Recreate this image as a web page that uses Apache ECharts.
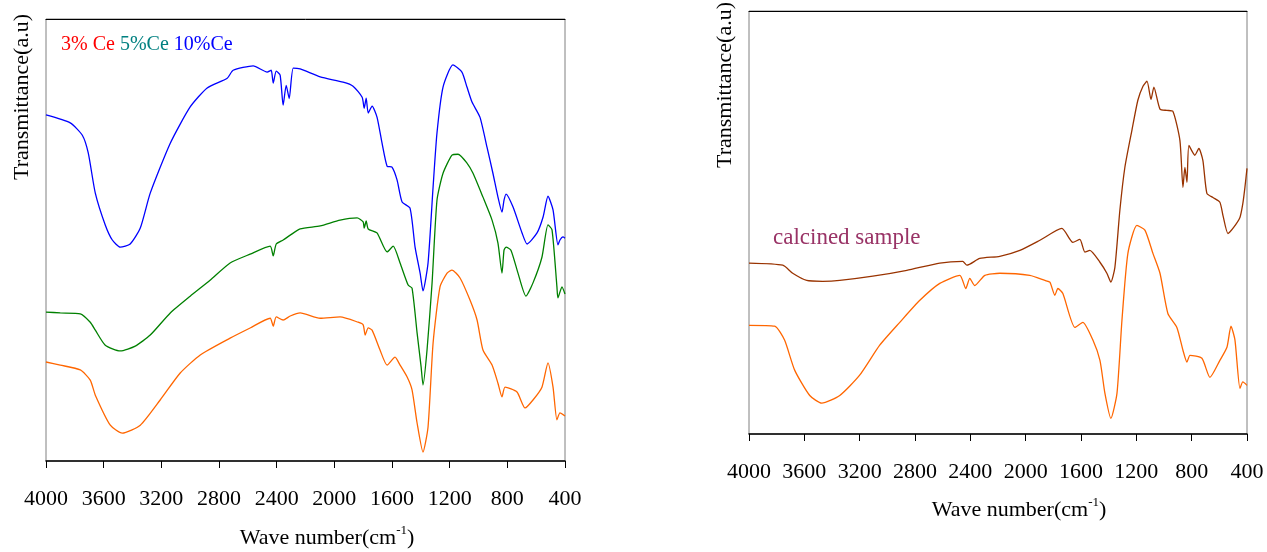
<!DOCTYPE html>
<html>
<head>
<meta charset="utf-8">
<script src="https://cdn.jsdelivr.net/npm/echarts@6/dist/echarts.min.js"></script>
<style>
  html, body { margin: 0; padding: 0; background: #fff; }
  #chart { width: 1267px; height: 552px; }
</style>
</head>
<body>
<div id="chart"></div>
<script>
// x ticks (wave number, cm-1)
var xTicks = [4000, 3600, 3200, 2800, 2400, 2000, 1600, 1200, 800, 400]

// left panel: 10% Ce (blue)
var wn10 = [4000, 3832, 3748, 3707, 3658, 3589, 3540, 3485, 3416, 3346, 3277, 3138, 3000, 2882, 2743, 2702, 2563, 2466, 2438, 2424, 2403, 2376, 2355, 2334, 2313, 2285, 2237, 2098, 1939, 1870, 1807, 1793, 1779, 1765, 1738, 1704, 1669, 1634, 1600, 1565, 1530, 1475, 1440, 1405, 1385, 1350, 1315, 1288, 1246, 1177, 1115, 1080, 1045, 990, 941, 900, 865, 837, 823, 809, 761, 698, 663, 594, 552, 518, 483, 449, 435, 414, 400]
var t10 = [78.3, 76.5, 73.7, 69.7, 60.6, 53.4, 50.0, 48.4, 49.1, 52.7, 60.6, 71.9, 80.1, 84.4, 86.6, 88.4, 89.4, 88.0, 88.4, 85.5, 88.2, 87.3, 80.5, 85.0, 82.0, 88.9, 88.7, 86.9, 85.7, 84.8, 82.3, 79.8, 82.1, 78.7, 80.3, 77.8, 71.9, 66.7, 66.5, 63.6, 58.6, 57.2, 48.4, 42.5, 38.5, 44.8, 62.0, 74.2, 84.6, 89.6, 88.0, 84.6, 81.2, 77.8, 71.0, 65.1, 59.7, 56.3, 59.0, 60.4, 57.5, 51.6, 49.1, 51.6, 55.2, 59.9, 56.8, 48.9, 50.0, 50.7, 50.4]

// left panel: 5% Ce (green)
var wn5 = [4000, 3901, 3762, 3693, 3658, 3589, 3485, 3381, 3277, 3138, 3000, 2862, 2723, 2584, 2445, 2424, 2403, 2355, 2306, 2237, 2098, 1960, 1842, 1800, 1793, 1779, 1765, 1704, 1634, 1592, 1544, 1488, 1461, 1426, 1398, 1385, 1357, 1322, 1288, 1246, 1184, 1142, 1080, 1038, 969, 906, 865, 837, 823, 809, 775, 726, 671, 622, 560, 518, 490, 456, 449, 421, 400]
var t5 = [33.7, 33.5, 33.3, 31.4, 29.6, 26.2, 24.9, 26.0, 28.5, 33.5, 37.3, 40.9, 44.8, 46.8, 48.6, 46.4, 49.1, 50.0, 51.1, 52.5, 53.2, 54.5, 55.0, 54.1, 52.7, 54.3, 52.5, 51.6, 47.3, 48.6, 44.8, 39.8, 39.1, 29.0, 21.3, 17.2, 25.1, 40.3, 59.0, 65.1, 69.2, 69.4, 67.4, 65.1, 59.7, 54.5, 49.3, 42.5, 47.7, 48.4, 47.7, 42.5, 37.3, 40.3, 46.1, 53.4, 52.3, 39.4, 36.9, 39.4, 37.8]

// left panel: 3% Ce (orange)
var wn3 = [4000, 3901, 3762, 3693, 3658, 3554, 3471, 3346, 3208, 3069, 2930, 2723, 2584, 2445, 2424, 2403, 2355, 2306, 2237, 2098, 1960, 1835, 1800, 1786, 1765, 1738, 1683, 1634, 1579, 1544, 1495, 1461, 1426, 1385, 1350, 1315, 1267, 1218, 1184, 1128, 1059, 1010, 969, 906, 865, 837, 816, 733, 677, 622, 560, 518, 483, 456, 435, 400]
var t3 = [22.4, 21.7, 20.6, 18.3, 14.9, 8.1, 6.3, 8.1, 13.8, 19.9, 24.0, 27.8, 30.1, 32.3, 30.5, 32.6, 31.9, 32.8, 33.5, 32.3, 32.6, 31.4, 30.8, 28.5, 30.1, 29.6, 25.1, 21.7, 23.5, 21.7, 19.0, 16.1, 8.6, 2.0, 7.7, 26.7, 39.4, 42.5, 43.2, 41.4, 36.4, 31.9, 25.1, 21.7, 17.6, 14.5, 16.7, 15.6, 12.0, 13.8, 16.7, 22.2, 16.7, 9.3, 10.9, 10.2]

// right panel: calcined sample (brown)
var wnCal = [4000, 3756, 3684, 3583, 3467, 3344, 3105, 2859, 2621, 2455, 2425, 2332, 2187, 2042, 1897, 1738, 1659, 1608, 1572, 1536, 1463, 1413, 1384, 1355, 1319, 1283, 1232, 1189, 1152, 1123, 1094, 1073, 1029, 979, 936, 885, 863, 849, 834, 820, 777, 748, 719, 690, 646, 596, 574, 538, 502, 451, 430, 415, 400]
var tCal = [40.4, 39.9, 38.0, 36.3, 36.1, 36.3, 37.3, 38.7, 40.4, 40.8, 39.9, 41.5, 42.0, 43.4, 45.8, 48.6, 45.3, 46.0, 43.0, 43.4, 40.6, 38.0, 35.9, 39.4, 52.9, 63.0, 71.8, 78.9, 82.2, 83.4, 79.1, 82.0, 76.8, 76.5, 76.3, 69.4, 58.3, 63.0, 59.5, 68.2, 65.9, 67.5, 64.7, 56.9, 55.9, 54.8, 51.7, 47.4, 48.6, 51.2, 54.5, 58.3, 62.8]

// right panel: uncalcined (orange)
var wnRaw = [4000, 3815, 3743, 3670, 3561, 3474, 3344, 3200, 3055, 2910, 2765, 2621, 2476, 2433, 2404, 2368, 2295, 2187, 1970, 1861, 1825, 1789, 1767, 1731, 1644, 1587, 1514, 1463, 1427, 1384, 1340, 1304, 1261, 1196, 1138, 1080, 1029, 972, 907, 863, 834, 812, 726, 668, 596, 545, 516, 487, 451, 430, 400]
var tRaw = [25.7, 25.5, 22.2, 15.1, 9.1, 7.3, 9.1, 13.9, 21.0, 26.4, 31.6, 35.6, 37.5, 34.4, 36.8, 35.1, 37.5, 38.0, 37.5, 36.3, 35.9, 32.8, 34.4, 33.2, 25.2, 26.4, 22.2, 17.4, 9.6, 3.7, 9.6, 26.9, 42.7, 49.3, 48.2, 42.7, 38.0, 28.5, 25.2, 19.8, 17.0, 18.6, 17.9, 13.4, 17.4, 20.5, 25.5, 22.2, 10.8, 12.3, 11.5]

var serif = "'Liberation Serif', 'Times New Roman', serif"

function zip (xs, ys) {
  return xs.map(function (x, i) { return [x, ys[i]] })
}

function bottomAxis (grid) {
  return {
    type: 'value',
    gridIndex: grid,
    inverse: true,
    min: 400,
    max: 4000,
    interval: 400,
    axisLine: { show: true, lineStyle: { color: '#000', width: 1.5 } },
    axisTick: { show: true, inside: false, length: 7, lineStyle: { color: '#000', width: 1 } },
    axisLabel: {
      show: true,
      margin: 27,
      color: '#000',
      fontFamily: serif,
      fontSize: 22,
      formatter: function (v) { return xTicks.indexOf(v) >= 0 ? String(v) : '' }
    },
    splitLine: { show: false }
  }
}

function topAxis (grid) {
  return {
    type: 'value',
    gridIndex: grid,
    position: 'top',
    inverse: true,
    min: 400,
    max: 4000,
    axisLine: { show: true, lineStyle: { color: '#000', width: 1 } },
    axisTick: { show: false },
    axisLabel: { show: false },
    splitLine: { show: false }
  }
}

function yAxis (grid) {
  return {
    type: 'value',
    gridIndex: grid,
    min: 0,
    max: 100,
    axisLine: { show: false },
    axisTick: { show: false },
    axisLabel: { show: false },
    splitLine: { show: false }
  }
}

function line (name, xs, ys, color, xi, yi) {
  return {
    name: name,
    type: 'line',
    xAxisIndex: xi,
    yAxisIndex: yi,
    data: zip(xs, ys),
    showSymbol: false,
    smooth: 0.2,
    lineStyle: { color: color, width: 1.3 },
    animation: false
  }
}

var xTitleRich = {
  m: { font: '22px ' + serif, fill: '#000', lineHeight: 28 },
  sup: { font: '13px ' + serif, fill: '#000', verticalAlign: 'top' }
}

var chart = echarts.init(document.getElementById('chart'))
chart.setOption({
  backgroundColor: '#fff',
  animation: false,
  grid: [
    { left: 46, top: 19, width: 519, height: 442, show: true, borderColor: '#808080', borderWidth: 1, backgroundColor: 'transparent' },
    { left: 749, top: 11, width: 498, height: 423, show: true, borderColor: '#808080', borderWidth: 1, backgroundColor: 'transparent' }
  ],
  xAxis: [bottomAxis(0), bottomAxis(1), topAxis(0), topAxis(1)],
  yAxis: [yAxis(0), yAxis(1)],
  series: [
    line('10%Ce', wn10, t10, '#0000ff', 0, 0),
    line('5%Ce', wn5, t5, '#008000', 0, 0),
    line('3% Ce', wn3, t3, '#ff6600', 0, 0),
    line('calcined sample', wnCal, tCal, '#993300', 1, 1),
    line('uncalcined', wnRaw, tRaw, '#ff6600', 1, 1)
  ],
  graphic: [
    {
      type: 'text', x: 22, y: 97, rotation: Math.PI / 2,
      style: { text: 'Transmittance(a.u)', font: '22px ' + serif, fill: '#000', align: 'center', verticalAlign: 'middle' }
    },
    {
      type: 'text', x: 725, y: 85, rotation: Math.PI / 2,
      style: { text: 'Transmittance(a.u)', font: '22px ' + serif, fill: '#000', align: 'center', verticalAlign: 'middle' }
    },
    {
      type: 'text', x: 327, y: 538,
      style: { text: '{m|Wave number(cm}{sup|-1}{m|)}', rich: xTitleRich, align: 'center', verticalAlign: 'middle' }
    },
    {
      type: 'text', x: 1019, y: 510,
      style: { text: '{m|Wave number(cm}{sup|-1}{m|)}', rich: xTitleRich, align: 'center', verticalAlign: 'middle' }
    },
    {
      type: 'text', x: 61, y: 45,
      style: {
        text: '{a|3% Ce} {b|5%Ce} {c|10%Ce}',
        align: 'left',
        verticalAlign: 'middle',
        font: '20px ' + serif,
        rich: {
          a: { font: '20px ' + serif, fill: '#ff0000' },
          b: { font: '20px ' + serif, fill: '#008080' },
          c: { font: '20px ' + serif, fill: '#0000ff' }
        }
      }
    },
    {
      type: 'text', x: 773, y: 238,
      style: { text: 'calcined sample', font: '23px ' + serif, fill: '#993366', align: 'left', verticalAlign: 'middle' }
    }
  ]
})
</script>
</body>
</html>
